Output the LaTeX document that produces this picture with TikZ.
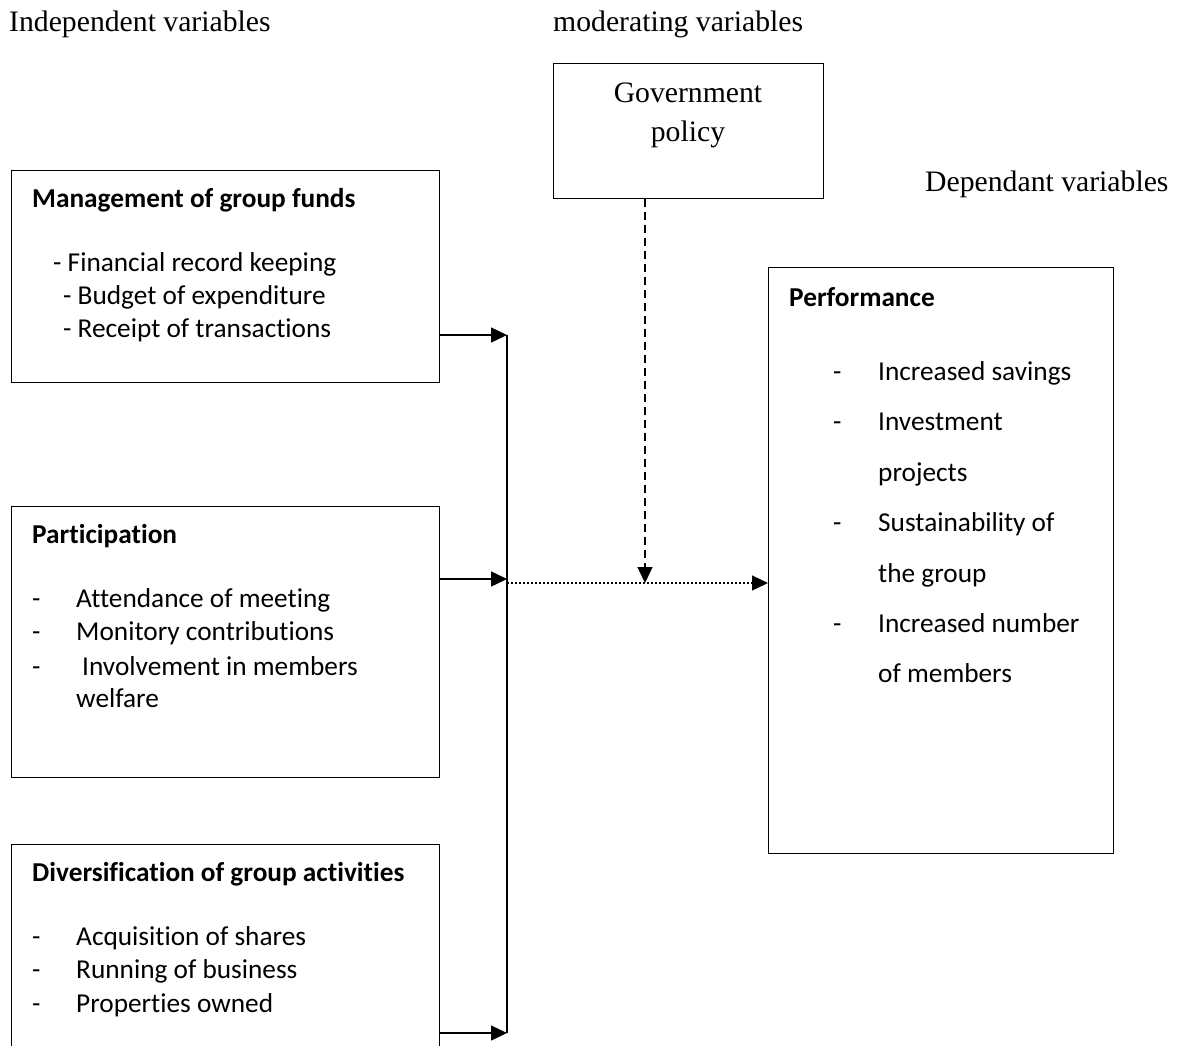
\documentclass[tikz,border=0pt]{standalone}
\usepackage{fontspec}
\setmainfont{Liberation Serif}
\newfontfamily\calfont[Ligatures={NoCommon}]{Carlito}
\usetikzlibrary{arrows.meta}
\begin{document}
\begin{tikzpicture}[x=1pt,y=-1pt,
  boxshape/.style={draw, line width=1.4pt, inner sep=0pt, anchor=north west},
  itemtxt/.style={anchor=base west, inner sep=0pt, font=\calfont\fontsize{27.3}{33}\selectfont},
  headtxt/.style={anchor=base west, inner sep=0pt, font=\calfont\bfseries\fontsize{27.3}{33}\selectfont},
  lbltxt/.style={anchor=base west, inner sep=0pt, font=\fontsize{29.7}{36}\selectfont},
  govtxt/.style={anchor=base, inner sep=0pt, font=\fontsize{29.7}{36}\selectfont},
  plainline/.style={line width=1.4pt},
  conn/.style={line width=1.4pt, -{Triangle[length=16pt,width=15pt]}},
  dotconn/.style={line width=1.2pt, dash pattern=on 2pt off 2pt, -{Triangle[length=16pt,width=15pt]}},
  dashconn/.style={line width=1.4pt, dash pattern=on 8pt off 5pt, -{Triangle[length=16pt,width=15pt]}}
]
\useasboundingbox (0,0) rectangle (1189,1045);

% top labels
\node[lbltxt] (lind) at (9,31) {Independent variables};
\node[lbltxt] (lmod) at (553,31) {moderating variables};
\node[lbltxt] (ldep) at (925,191) {Dependant variables};

% government policy
\node[boxshape, minimum width=270pt, minimum height=135pt] (gov) at (553,63) {};
\node[govtxt] (govt1) at (688,102) {Government};
\node[govtxt] (govt2) at (688,141) {policy};

% box 1
\node[boxshape, minimum width=428pt, minimum height=212pt] (b1) at (11,170) {};
\node[headtxt] (b1h) at (32,207) {Management of group funds};
\node[itemtxt] (b1a) at (53,271) {- Financial record keeping};
\node[itemtxt] (b1b) at (63,304) {- Budget of expenditure};
\node[itemtxt] (b1c) at (63,337) {- Receipt of transactions};

% box 2
\node[boxshape, minimum width=428pt, minimum height=271pt] (b2) at (11,506) {};
\node[headtxt] (b2h) at (32,543) {Participation};
\node[itemtxt] (b2d1) at (32,607) {-};
\node[itemtxt] (b2a) at (76,607) {Attendance of meeting};
\node[itemtxt] (b2d2) at (32,640) {-};
\node[itemtxt] (b2b) at (76,640) {Monitory contributions};
\node[itemtxt] (b2d3) at (32,675) {-};
\node[itemtxt] (b2c) at (82,675) {Involvement in members};
\node[itemtxt] (b2c2) at (76,707) {welfare};

% box 3 (runs past the lower edge)
\node[boxshape, minimum width=428pt, minimum height=230pt] (b3) at (11,844) {};
\node[headtxt] (b3h) at (32,881) {Diversification of group activities};
\node[itemtxt] (b3d1) at (32,945) {-};
\node[itemtxt] (b3a) at (76,945) {Acquisition of shares};
\node[itemtxt] (b3d2) at (32,978) {-};
\node[itemtxt] (b3b) at (76,978) {Running of business};
\node[itemtxt] (b3d3) at (32,1012) {-};
\node[itemtxt] (b3c) at (76,1012) {Properties owned};

% performance box
\node[boxshape, minimum width=345pt, minimum height=586pt] (perf) at (768,267) {};
\node[headtxt] (ph) at (789,306) {Performance};
\node[itemtxt] (pd1) at (833,380) {-};
\node[itemtxt] (pa) at (878,380) {Increased savings};
\node[itemtxt] (pd2) at (833,430) {-};
\node[itemtxt] (pb) at (878,430) {Investment};
\node[itemtxt] (pb2) at (878,481) {projects};
\node[itemtxt] (pd3) at (833,531) {-};
\node[itemtxt] (pc) at (878,531) {Sustainability of};
\node[itemtxt] (pc2) at (878,582) {the group};
\node[itemtxt] (pd4) at (833,632) {-};
\node[itemtxt] (pe) at (878,632) {Increased number};
\node[itemtxt] (pe2) at (878,682) {of members};

% connectors
\coordinate (j1) at (507,335);
\coordinate (j2) at (507,579);
\coordinate (j3) at (507,1033);
\coordinate (jd) at (507,583);
\coordinate (mid) at (645,583);

\draw[conn] (b1.east |- j1) -- (j1);
\draw[conn] (b2.east |- j2) -- (j2);
\draw[conn] (b3.east |- j3) -- (j3);
\draw[plainline] (j1) -- (j3);
\draw[dotconn] (jd) -- (perf.west |- jd);
\draw[dashconn] (gov.south -| mid) -- (mid);
\end{tikzpicture}
\end{document}
